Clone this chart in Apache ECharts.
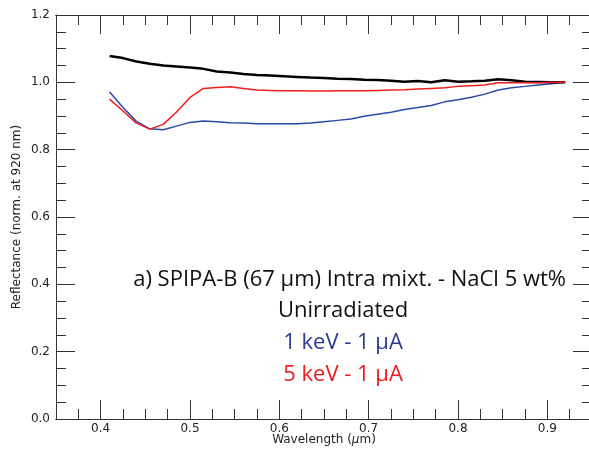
<!DOCTYPE html>
<html>
<head>
<meta charset="utf-8">
<script src="https://cdn.jsdelivr.net/npm/echarts@6/dist/echarts.min.js"></script>
<style>
  html, body { margin: 0; padding: 0; background: #fff; }
  #chart { width: 589px; height: 449px; }
</style>
</head>
<body>
<div id="chart"></div>
<script>
// wavelength grid (µm)
var wavelength = [0.41, 0.425, 0.44, 0.455, 0.47, 0.485, 0.5, 0.515, 0.53, 0.545,
  0.56, 0.575, 0.59, 0.605, 0.62, 0.635, 0.65, 0.665, 0.68, 0.695,
  0.71, 0.725, 0.74, 0.755, 0.77, 0.785, 0.8, 0.815, 0.83, 0.845,
  0.86, 0.875, 0.89, 0.905, 0.92];

// reflectance normalised at 920 nm
var unirradiated = [1.078, 1.072, 1.062, 1.055, 1.050, 1.047, 1.044, 1.040, 1.032, 1.029,
  1.025, 1.022, 1.020, 1.018, 1.016, 1.014, 1.013, 1.011, 1.010, 1.008,
  1.007, 1.005, 1.002, 1.004, 1.000, 1.006, 1.002, 1.003, 1.005, 1.009,
  1.006, 1.002, 1.001, 1.000, 1.000];
var kev1 = [0.971, 0.925, 0.884, 0.862, 0.859, 0.870, 0.881, 0.885, 0.883, 0.880,
  0.879, 0.877, 0.877, 0.877, 0.877, 0.879, 0.883, 0.887, 0.891, 0.899,
  0.905, 0.911, 0.919, 0.925, 0.931, 0.942, 0.948, 0.956, 0.965, 0.977,
  0.984, 0.988, 0.992, 0.996, 1.000];
var kev5 = [0.950, 0.915, 0.879, 0.861, 0.875, 0.912, 0.955, 0.982, 0.985, 0.987,
  0.982, 0.977, 0.976, 0.975, 0.975, 0.974, 0.974, 0.975, 0.975, 0.975,
  0.976, 0.977, 0.978, 0.980, 0.982, 0.984, 0.988, 0.990, 0.992, 0.999,
  0.999, 0.999, 0.999, 1.000, 1.000];

var xTicks = [0.4, 0.5, 0.6, 0.7, 0.8, 0.9];
var legendLines = [
  ['a) SPIPA-B (67 μm) Intra mixt. - NaCl 5 wt%', '#111111'],
  ['Unirradiated', '#111111'],
  ['1 keV - 1 μA', '#2b3b97'],
  ['5 keV - 1 μA', '#ee1d1d']
];

function pairs(ys) {
  return wavelength.map(function (x, i) { return [x, ys[i]]; });
}

var axisCol = '#333333';
var tickFont = { fontFamily: 'DejaVu Sans', fontSize: 12, color: '#222' };

function xAxisBase(pos, major, showLabel) {
  var ax = {
    type: 'value', position: pos, min: 0.35, max: 0.95,
    axisLine: { show: true, onZero: false, lineStyle: { color: axisCol, width: 1 } },
    splitLine: { show: false },
    axisTick: { show: true, inside: true, length: major ? 19 : 10,
      lineStyle: { color: axisCol, width: 1 } },
    axisLabel: { show: false }
  };
  if (major) {
    ax.axisTick.customValues = xTicks;
    ax.axisLabel = Object.assign({ show: showLabel, margin: 4, customValues: xTicks,
      formatter: function (v) { return v.toFixed(1); } }, tickFont);
  } else {
    ax.interval = 0.025;
  }
  return ax;
}

var xMain = xAxisBase('bottom', true, true);
xMain.name = 'Wavelength ({i|μ}m)';
xMain.nameLocation = 'middle';
xMain.nameGap = 15;
xMain.nameMoveOverlap = false;
xMain.nameTextStyle = { fontFamily: 'DejaVu Sans', fontSize: 12, color: '#222',
  rich: { i: { fontStyle: 'italic', fontFamily: 'DejaVu Sans', fontSize: 12, color: '#222' } } };

function yAxisBase(pos, showLabel) {
  return {
    type: 'value', position: pos, min: 0, max: 1.2, interval: 0.2,
    axisLine: { show: true, onZero: false, lineStyle: { color: axisCol, width: 1 } },
    splitLine: { show: false },
    axisTick: { show: true, inside: true, length: 19, lineStyle: { color: axisCol, width: 1 } },
    minorTick: { show: true, splitNumber: 4, length: 10, lineStyle: { color: axisCol, width: 1 } },
    minorSplitLine: { show: false },
    axisLabel: Object.assign({ show: showLabel, margin: 6,
      formatter: function (v) { return v.toFixed(1); } }, tickFont)
  };
}

var yMain = yAxisBase('left', true);
yMain.name = 'Reflectance (norm. at 920 nm)';
yMain.nameLocation = 'middle';
yMain.nameGap = 33;
yMain.nameMoveOverlap = false;
yMain.nameTextStyle = { fontFamily: 'DejaVu Sans', fontSize: 12, color: '#222' };

// text block: first line right-aligned, the rest centred
var legendY = [280, 311, 343, 375];
var legendX = [566, 343, 343, 343];
var legendAlign = ['right', 'center', 'center', 'center'];

var chart = echarts.init(document.getElementById('chart'));
chart.setOption({
  backgroundColor: '#ffffff',
  animation: false,
  grid: { left: 56, right: -3, top: 15, bottom: 30, containLabel: false, outerBoundsMode: 'none' },
  xAxis: [
    xMain,
    xAxisBase('bottom', false, false),
    xAxisBase('top', true, false),
    xAxisBase('top', false, false)
  ],
  yAxis: [yMain, yAxisBase('right', false)],
  graphic: legendLines.map(function (l, i) {
    return {
      type: 'text', x: legendX[i], y: legendY[i],
      style: { text: l[0], fill: l[1], fontFamily: 'Open Sans', fontSize: 22,
        textAlign: legendAlign[i], textVerticalAlign: 'middle' }
    };
  }),
  series: [
    { name: 'Unirradiated', type: 'line', data: pairs(unirradiated), showSymbol: false,
      lineStyle: { color: '#000', width: 2.5 }, z: 3 },
    { name: '1 keV - 1 μA', type: 'line', data: pairs(kev1), showSymbol: false,
      lineStyle: { color: '#2b4aa8', width: 1.5 }, z: 2 },
    { name: '5 keV - 1 μA', type: 'line', data: pairs(kev5), showSymbol: false,
      lineStyle: { color: '#ee1d1d', width: 1.5 }, z: 4 }
  ]
});
</script>
</body>
</html>
